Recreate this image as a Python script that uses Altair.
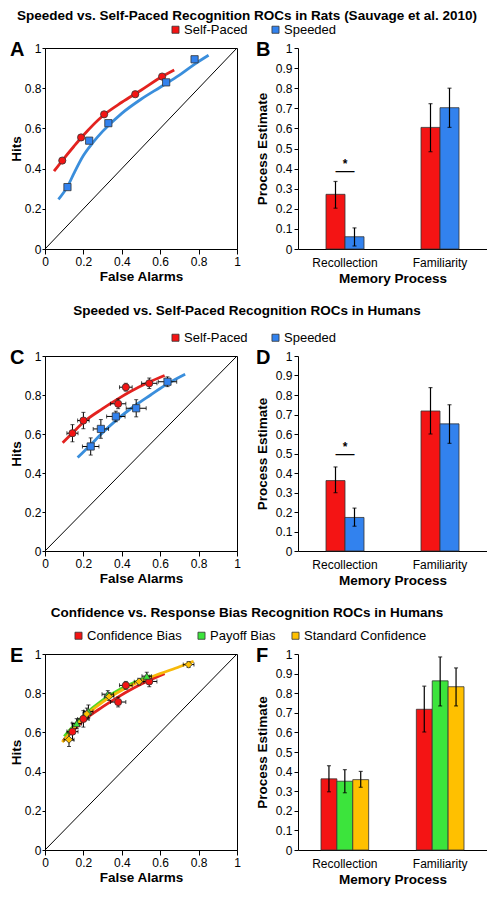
import altair as alt
import pandas as pd

FONT = "Liberation Sans"
EDGE = "#333333"

row_titles = [
    "Speeded vs. Self-Paced Recognition ROCs in Rats (Sauvage et al. 2010)",
    "Speeded vs. Self-Paced Recognition ROCs in Humans",
    "Confidence vs. Response Bias Recognition ROCs in Humans",
]
panel_letters = ["A", "B", "C", "D", "E", "F"]
processes = ["Recollection", "Familiarity"]
roc_ticks = [0, 0.2, 0.4, 0.6, 0.8, 1]
est_ticks = [0, 0.1, 0.2, 0.3, 0.4, 0.5, 0.6, 0.7, 0.8, 0.9, 1]
chance = [0, 1]

speed_series = ["Self-Paced", "Speeded"]
speed_colors = ["#F41414", "#3282EE"]
speed_line_colors = ["#E3221F", "#3A8EDC"]
speed_shapes = ["circle", "square"]

bias_series = ["Confidence Bias", "Payoff Bias", "Standard Confidence"]
bias_colors = ["#F41414", "#3CE43C", "#FFC000"]
bias_line_colors = ["#E3221F", "#52D824", "#F7B90A"]
bias_shapes = ["circle", "triangle-up", "diamond"]

# ---- Panel A (rats) ----
a_self_fa = [0.09, 0.188, 0.308, 0.47, 0.61]
a_self_hit = [0.44, 0.555, 0.67, 0.77, 0.858]
a_speed_fa = [0.117, 0.23, 0.33, 0.631, 0.779]
a_speed_hit = [0.308, 0.539, 0.626, 0.829, 0.944]
a_self_curve_fa = [0.047, 0.09, 0.15, 0.2, 0.3, 0.4, 0.5, 0.6, 0.673]
a_self_curve_hit = [0.387, 0.44, 0.51, 0.566, 0.662, 0.73, 0.79, 0.852, 0.89]
a_speed_curve_fa = [0.07, 0.117, 0.15, 0.2, 0.25, 0.3, 0.4, 0.5, 0.6, 0.7, 0.78, 0.852]
a_speed_curve_hit = [0.247, 0.31, 0.375, 0.465, 0.53, 0.585, 0.675, 0.745, 0.805, 0.865, 0.92, 0.964]

# ---- Panel B ----
b_self = [0.272, 0.605]
b_self_lo = [0.203, 0.484]
b_self_hi = [0.336, 0.723]
b_speed = [0.061, 0.703]
b_speed_lo = [0.015, 0.605]
b_speed_hi = [0.105, 0.80]
b_sig = [0.395]

# ---- Panel C (humans) ----
c_self_fa = [0.143, 0.20, 0.381, 0.421, 0.543]
c_self_hit = [0.604, 0.669, 0.755, 0.84, 0.86]
c_self_fa_err = [0.029, 0.03, 0.04, 0.033, 0.04]
c_self_hit_err = [0.044, 0.042, 0.025, 0.02, 0.027]
c_speed_fa = [0.238, 0.291, 0.369, 0.475, 0.638]
c_speed_hit = [0.536, 0.626, 0.69, 0.732, 0.868]
c_speed_fa_err = [0.043, 0.04, 0.048, 0.052, 0.048]
c_speed_hit_err = [0.044, 0.048, 0.027, 0.044, 0.025]
c_self_curve_fa = [0.092, 0.143, 0.2, 0.3, 0.38, 0.45, 0.54, 0.623]
c_self_curve_hit = [0.555, 0.605, 0.66, 0.73, 0.78, 0.82, 0.865, 0.90]
c_speed_curve_fa = [0.17, 0.238, 0.29, 0.37, 0.475, 0.55, 0.638, 0.73]
c_speed_curve_hit = [0.479, 0.545, 0.597, 0.67, 0.75, 0.80, 0.858, 0.907]

# ---- Panel D ----
d_self = [0.361, 0.718]
d_self_lo = [0.299, 0.60]
d_self_hi = [0.431, 0.838]
d_speed = [0.172, 0.652]
d_speed_lo = [0.127, 0.552]
d_speed_hi = [0.22, 0.75]
d_sig = [0.503]

# ---- Panel E ----
e_conf_fa = [0.143, 0.20, 0.381, 0.421, 0.543]
e_conf_hit = [0.604, 0.669, 0.755, 0.84, 0.86]
e_conf_fa_err = [0.029, 0.03, 0.04, 0.033, 0.04]
e_conf_hit_err = [0.044, 0.042, 0.025, 0.02, 0.027]
e_pay_fa = [0.165, 0.226, 0.327, 0.53]
e_pay_hit = [0.645, 0.707, 0.795, 0.887]
e_pay_fa_err = [0.025, 0.024, 0.03, 0.025]
e_pay_hit_err = [0.025, 0.033, 0.018, 0.02]
e_std_fa = [0.125, 0.218, 0.334, 0.49, 0.748]
e_std_hit = [0.563, 0.694, 0.783, 0.859, 0.946]
e_std_fa_err = [0.026, 0.02, 0.025, 0.025, 0.028]
e_std_hit_err = [0.035, 0.03, 0.02, 0.017, 0.015]
e_conf_curve_fa = [0.092, 0.143, 0.2, 0.3, 0.38, 0.45, 0.54, 0.623]
e_conf_curve_hit = [0.555, 0.605, 0.66, 0.73, 0.78, 0.82, 0.865, 0.90]
e_pay_curve_fa = [0.10, 0.15, 0.2, 0.3, 0.4, 0.5, 0.55]
e_pay_curve_hit = [0.58, 0.635, 0.685, 0.765, 0.825, 0.87, 0.89]
e_std_curve_fa = [0.09, 0.125, 0.2, 0.3, 0.4, 0.5, 0.6, 0.7, 0.774]
e_std_curve_hit = [0.55, 0.59, 0.675, 0.755, 0.815, 0.862, 0.90, 0.935, 0.963]

# ---- Panel F ----
f_conf = [0.363, 0.718]
f_conf_lo = [0.297, 0.602]
f_conf_hi = [0.43, 0.836]
f_pay = [0.351, 0.863]
f_pay_lo = [0.292, 0.735]
f_pay_hi = [0.41, 0.985]
f_std = [0.359, 0.833]
f_std_lo = [0.32, 0.735]
f_std_hi = [0.401, 0.929]

ROW_H = [201, 195, 196]
W_L, W_R = 192, 189


def legend_def(lx, ly, colpad):
    return alt.Legend(title=None, orient="none", legendX=lx, legendY=ly,
                      direction="horizontal", symbolType="square", symbolSize=50,
                      symbolStrokeColor=EDGE, symbolStrokeWidth=0.8,
                      labelFont=FONT, labelFontSize=13, labelColor="black",
                      labelOffset=2, columnPadding=colpad)


def letter_layer(letter, dx):
    return alt.Chart(pd.DataFrame({"letter": [letter]})).mark_text(
        font=FONT, fontSize=20, fontWeight="bold", align="left",
        baseline="alphabetic", color="black"
    ).encode(x=alt.value(dx), y=alt.value(8), text="letter:N")


def roc_panel(series, colors, line_colors, shapes, fas, hits, fa_errs, hit_errs,
              curves, letter, height, legend, curve_order):
    xs = alt.X("fa:Q", title="False Alarms", scale=alt.Scale(domain=[0, 1], nice=False),
               axis=alt.Axis(values=roc_ticks, tickCount=len(roc_ticks), format="~g",
                             tickSize=5, labelPadding=2, titlePadding=2,
                             labelFlush=False, labelOverlap=False))
    ys = alt.Y("hit:Q", title="Hits", scale=alt.Scale(domain=[0, 1], nice=False),
               axis=alt.Axis(values=roc_ticks, tickCount=len(roc_ticks), format="~g",
                             tickSize=3, labelPadding=1, titlePadding=1,
                             labelFlush=False, labelOverlap=False))
    layers = [
        alt.Chart(pd.DataFrame({"fa": chance, "hit": chance})).mark_line(
            color="black", strokeWidth=1).encode(x=xs, y=ys)
    ]
    for k in curve_order:
        cfa, chit = curves[k]
        layers.append(
            alt.Chart(pd.DataFrame({"fa": cfa, "hit": chit})).mark_line(
                color=line_colors[k], strokeWidth=2.8, interpolate="monotone"
            ).encode(x=alt.X("fa:Q", title="False Alarms"),
                     y=alt.Y("hit:Q", title="Hits"))
        )
    point_frames = []
    for i, s in enumerate(series):
        d = {"series": [s] * len(fas[i]), "fa": fas[i], "hit": hits[i]}
        if fa_errs is not None:
            d["fa_lo"] = [f - e for f, e in zip(fas[i], fa_errs[i])]
            d["fa_hi"] = [f + e for f, e in zip(fas[i], fa_errs[i])]
            d["hit_lo"] = [h - e for h, e in zip(hits[i], hit_errs[i])]
            d["hit_hi"] = [h + e for h, e in zip(hits[i], hit_errs[i])]
        point_frames.append(pd.DataFrame(d))
    if fa_errs is not None:
        allp = pd.concat(point_frames, ignore_index=True)
        layers.append(alt.Chart(allp).mark_errorbar(
            ticks=True, size=4, thickness=1, color="black").encode(
            x=alt.X("fa:Q", title="False Alarms"),
            y=alt.Y("hit_lo:Q", title="Hits"), y2="hit_hi:Q"))
        layers.append(alt.Chart(allp).mark_errorbar(
            ticks=True, size=4, thickness=1, color="black").encode(
            y=alt.Y("hit:Q", title="Hits"),
            x=alt.X("fa_lo:Q", title="False Alarms"), x2="fa_hi:Q"))
    for i, s in enumerate(series):
        layers.append(
            alt.Chart(point_frames[i]).mark_point(
                filled=True, shape=shapes[i], size=52, stroke=EDGE,
                strokeWidth=0.8, opacity=1).encode(
                x=alt.X("fa:Q", title="False Alarms"),
                y=alt.Y("hit:Q", title="Hits"),
                color=alt.Color("series:N",
                                scale=alt.Scale(domain=series, range=colors),
                                legend=legend),
            )
        )
    layers.append(letter_layer(letter, -35))
    return alt.layer(*layers).properties(
        width=W_L, height=height,
        view=alt.ViewBackground(stroke="black", strokeWidth=1))


def bar_panel(series, colors, vals, los, his, letter, height, legend, sig=None):
    n = len(series)
    rows = []
    for i, s in enumerate(series):
        for j, p in enumerate(processes):
            rows.append({"key": p + "|" + s, "process": p, "series": s,
                         "value": vals[i][j], "lo": los[i][j], "hi": his[i][j]})
    df = pd.DataFrame(rows)
    rec_keys = [processes[0] + "|" + s for s in series]
    fam_keys = [processes[1] + "|" + s for s in series]
    domain = ["_a"] + rec_keys + ["_g1", "_g2", "_g3"] + fam_keys + ["_b"]
    nb = len(domain)
    first = 28 if n == 2 else 23
    # (1 + po) * unit = first  and  nb * unit + 2 * po * unit = W_R
    unit = (W_R - 2 * first) / (nb - 2)
    po = first / unit - 1
    lab_idx = (n - 1) // 2
    lab_off = unit / 2 if n % 2 == 0 else 0
    expr = ("datum.value == '%s' ? '%s' : datum.value == '%s' ? '%s' : ''"
            % (rec_keys[lab_idx], processes[0], fam_keys[lab_idx], processes[1]))
    xscale = alt.Scale(domain=domain, paddingInner=0, paddingOuter=po)
    xaxis = alt.Axis(labelAngle=0, ticks=False, labelPadding=8, titlePadding=3,
                     labelExpr=expr, labelOffset=lab_off, labelOverlap=False)
    xs = alt.X("key:N", title="Memory Process", scale=xscale, axis=xaxis)
    ys = alt.Y("value:Q", title="Process Estimate",
               scale=alt.Scale(domain=[0, 1], nice=False),
               axis=alt.Axis(values=est_ticks, tickCount=len(est_ticks), format="~g",
                             tickSize=4, labelPadding=2, titlePadding=6,
                             labelFlush=False, labelOverlap=False))
    layers = [
        alt.Chart(df).mark_bar(stroke=EDGE, strokeWidth=0.8).encode(
            x=xs, y=ys,
            color=alt.Color("series:N", scale=alt.Scale(domain=series, range=colors),
                            legend=legend)),
        alt.Chart(df).mark_errorbar(ticks=True, size=4, thickness=1.2,
                                    color="black").encode(
            x=alt.X("key:N", title="Memory Process"),
            y=alt.Y("lo:Q", title="Process Estimate"), y2="hi:Q"),
    ]
    if sig is not None:
        sdf = pd.DataFrame({"key": [rec_keys[0]], "value": sig, "mark": ["*"],
                            "bar": ["\u2014"]})
        layers.append(alt.Chart(sdf).mark_text(font=FONT, fontSize=19,
                                               baseline="middle", color="black").encode(
            x=alt.X("key:N", title="Memory Process", bandPosition=1),
            y=alt.Y("value:Q", title="Process Estimate"), text="bar:N"))
        layers.append(alt.Chart(sdf).mark_text(font=FONT, fontSize=12, fontWeight="bold",
                                               baseline="alphabetic", dy=-2,
                                               color="black").encode(
            x=alt.X("key:N", title="Memory Process", bandPosition=1),
            y=alt.Y("value:Q", title="Process Estimate"), text="mark:N"))
    layers.append(letter_layer(letter, -42))
    return alt.layer(*layers).properties(width=W_R, height=height)


def row_title(text, offset):
    return alt.TitleParams(text, anchor="middle", frame="group", font=FONT,
                           fontSize=13.5, fontWeight="bold", color="black",
                           offset=offset, dx=202)


# Row 1
leg1 = legend_def(124, -25, 21)
pA = roc_panel(speed_series, speed_colors, speed_line_colors, speed_shapes,
               [a_self_fa, a_speed_fa], [a_self_hit, a_speed_hit], None, None,
               [(a_self_curve_fa, a_self_curve_hit), (a_speed_curve_fa, a_speed_curve_hit)],
               panel_letters[0], ROW_H[0], leg1, [0, 1])
pB = bar_panel(speed_series, speed_colors, [b_self, b_speed], [b_self_lo, b_speed_lo],
               [b_self_hi, b_speed_hi], panel_letters[1], ROW_H[0], leg1, b_sig)
row1 = alt.hconcat(pA, pB, spacing=14, title=row_title(row_titles[0], 1))

# Row 2
leg2 = legend_def(124, -25, 21)
pC = roc_panel(speed_series, speed_colors, speed_line_colors, speed_shapes,
               [c_self_fa, c_speed_fa], [c_self_hit, c_speed_hit],
               [c_self_fa_err, c_speed_fa_err], [c_self_hit_err, c_speed_hit_err],
               [(c_self_curve_fa, c_self_curve_hit), (c_speed_curve_fa, c_speed_curve_hit)],
               panel_letters[2], ROW_H[1], leg2, [0, 1])
pD = bar_panel(speed_series, speed_colors, [d_self, d_speed], [d_self_lo, d_speed_lo],
               [d_self_hi, d_speed_hi], panel_letters[3], ROW_H[1], leg2, d_sig)
row2 = alt.hconcat(pC, pD, spacing=14, title=row_title(row_titles[1], 14))

# Row 3
leg3 = legend_def(27, -25, 13)
pE = roc_panel(bias_series, bias_colors, bias_line_colors, bias_shapes,
               [e_conf_fa, e_pay_fa, e_std_fa], [e_conf_hit, e_pay_hit, e_std_hit],
               [e_conf_fa_err, e_pay_fa_err, e_std_fa_err],
               [e_conf_hit_err, e_pay_hit_err, e_std_hit_err],
               [(e_conf_curve_fa, e_conf_curve_hit), (e_pay_curve_fa, e_pay_curve_hit),
                (e_std_curve_fa, e_std_curve_hit)],
               panel_letters[4], ROW_H[2], leg3, [1, 0, 2])
pF = bar_panel(bias_series, bias_colors, [f_conf, f_pay, f_std],
               [f_conf_lo, f_pay_lo, f_std_lo], [f_conf_hi, f_pay_hi, f_std_hi],
               panel_letters[5], ROW_H[2], leg3)
row3 = alt.hconcat(pE, pF, spacing=14, title=row_title(row_titles[2], 10))

chart = alt.vconcat(row1, row2, row3, spacing=18).resolve_scale(
    color="independent"
).properties(
    padding=0
).configure_axis(
    labelFont=FONT, titleFont=FONT, labelFontSize=12, titleFontSize=13.5,
    titleFontWeight="bold", labelColor="black", titleColor="black",
    domainColor="black", tickColor="black", grid=False, labelOverlap=False
).configure_view(stroke=None)

chart.save("out.html", embed_options={"renderer": "svg", "actions": False})
